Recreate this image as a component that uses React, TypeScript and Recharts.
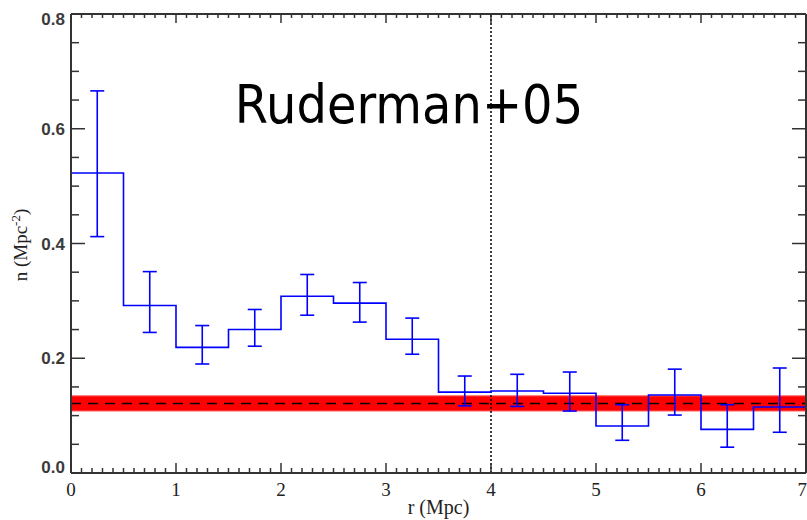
import React from "react";
import {
  ComposedChart,
  Line,
  Scatter,
  ErrorBar,
  XAxis,
  YAxis,
  ReferenceLine,
  ReferenceArea,
  Label,
} from "recharts";

// bin edges (Mpc) and the step level that starts at each edge
const binEdges = [0, 0.5, 1, 1.5, 2, 2.5, 3, 3.5, 4, 4.5, 5, 5.5, 6, 6.5, 7];
const edgeDensity = [0.523, 0.292, 0.219, 0.25, 0.308, 0.296, 0.233, 0.141, 0.143, 0.139, 0.082, 0.136, 0.076, 0.115, 0.172];

// bin centres with error bar ends
const binCentres = [0.25, 0.75, 1.25, 1.75, 2.25, 2.75, 3.25, 3.75, 4.25, 4.75, 5.25, 5.75, 6.25, 6.75];
const centreDensity = [0.523, 0.292, 0.219, 0.25, 0.308, 0.296, 0.233, 0.141, 0.143, 0.139, 0.082, 0.136, 0.076, 0.115];
const errLower = [0.412, 0.245, 0.19, 0.221, 0.275, 0.263, 0.207, 0.117, 0.116, 0.108, 0.057, 0.101, 0.045, 0.071];
const errUpper = [0.666, 0.351, 0.257, 0.285, 0.346, 0.332, 0.27, 0.169, 0.172, 0.176, 0.119, 0.181, 0.119, 0.183];

// background level and its band
const bgLevel = 0.121;
const bgBand = [0.108, 0.1345];
const markerR = 4;

const yTicks = [0, 0.05, 0.1, 0.15, 0.2, 0.25, 0.3, 0.35, 0.4, 0.45, 0.5, 0.55, 0.6, 0.65, 0.7, 0.75, 0.8];
const yMajor = [0, 0.2, 0.4, 0.6, 0.8];
const yLabels = ["0.0", "0.2", "0.4", "0.6", "0.8"];
const xTicks = Array.from({ length: 71 }, (_, i) => i / 10);

const stepData = binEdges.map((r, i) => ({ r, n: edgeDensity[i] }));
const errData = binCentres.map((r, i) => ({
  r,
  n: centreDensity[i],
  err: [centreDensity[i] - errLower[i], errUpper[i] - centreDensity[i]],
}));

const AX = "#333";
const isMajorY = (v: number) => yMajor.some((m) => Math.abs(m - v) < 1e-6);
const isMajorX = (v: number) => Math.abs(v - Math.round(v)) < 1e-6;

function LeftTick(p: any) {
  const v = p.payload.value;
  const major = isMajorY(v);
  const idx = yMajor.findIndex((m) => Math.abs(m - v) < 1e-6);
  let dy = 0;
  if (idx === yMajor.length - 1) dy = 5;
  if (idx === 0) dy = -6;
  return (
    <g>
      <line x1={p.x} x2={p.x + (major ? 14 : 8)} y1={p.y} y2={p.y} stroke={AX} strokeWidth={1.5} />
      {major && (
        <text x={p.x - 6} y={p.y + dy} dy="0.36em" textAnchor="end" fontFamily="Liberation Sans" fontWeight="bold" fontSize={17} fill="#3a3a3a">
          {yLabels[idx]}
        </text>
      )}
    </g>
  );
}

function RightTick(p: any) {
  const major = isMajorY(p.payload.value);
  return <line x1={p.x} x2={p.x - (major ? 14 : 8)} y1={p.y} y2={p.y} stroke={AX} strokeWidth={1.5} />;
}

function BottomTick(p: any) {
  const v = p.payload.value;
  const major = isMajorX(v);
  const last = Math.round(v) === 7;
  return (
    <g>
      <line x1={p.x} x2={p.x} y1={p.y} y2={p.y - (major ? 10 : 5)} stroke={AX} strokeWidth={1.5} />
      {major && (
        <text x={last ? 807 : p.x} y={p.y + 16} dy="0.36em" textAnchor={last ? "end" : "middle"} fontFamily="Liberation Serif" fontSize={19} fill="#222">
          {Math.round(v)}
        </text>
      )}
    </g>
  );
}

function TopTick(p: any) {
  const major = isMajorX(p.payload.value);
  return <line x1={p.x} x2={p.x} y1={p.y} y2={p.y + (major ? 9 : 4)} stroke={AX} strokeWidth={1.5} />;
}

export default function App() {
  return (
    <div style={{ position: "fixed", left: 0, top: 0, width: 807, height: 520, overflow: "hidden", background: "#fff" }}>
      <ComposedChart width={807} height={520} margin={{ top: 0, right: 0, bottom: 0, left: 0 }}>
        <XAxis
          xAxisId="b"
          type="number"
          dataKey="r"
          domain={[0, 7]}
          ticks={xTicks}
          interval={0}
          allowDataOverflow
          height={47}
          tickSize={0}
          tickMargin={0}
          tickLine={false}
          axisLine={{ stroke: AX, strokeWidth: 2 }}
          tick={(p: any) => <BottomTick {...p} />}
        >
          <Label
            content={(p: any) => (
              <text x={p.viewBox.x + p.viewBox.width / 2} y={p.viewBox.y + 41} textAnchor="middle" fontFamily="Liberation Serif" fontSize={20} fill="#222">
                r (Mpc)
              </text>
            )}
          />
        </XAxis>
        <XAxis
          xAxisId="t"
          orientation="top"
          type="number"
          dataKey="r"
          domain={[0, 7]}
          ticks={xTicks}
          interval={0}
          allowDataOverflow
          height={14}
          tickSize={0}
          tickMargin={0}
          tickLine={false}
          axisLine={{ stroke: AX, strokeWidth: 2 }}
          tick={(p: any) => <TopTick {...p} />}
        />
        <YAxis
          yAxisId="l"
          type="number"
          domain={[0, 0.8]}
          ticks={yTicks}
          interval={0}
          allowDataOverflow
          width={71}
          tickSize={0}
          tickMargin={0}
          tickLine={false}
          axisLine={{ stroke: AX, strokeWidth: 2 }}
          tick={(p: any) => <LeftTick {...p} />}
        >
          <Label
            content={() => (
              <text transform="translate(27, 245) rotate(-90)" textAnchor="middle" fontFamily="Liberation Serif" fontSize={19} fill="#222">
                n (Mpc<tspan dy={-7} fontSize={13}>-2</tspan>
                <tspan dy={7}>)</tspan>
              </text>
            )}
          />
        </YAxis>
        <YAxis
          yAxisId="r"
          orientation="right"
          type="number"
          domain={[0, 0.8]}
          ticks={yTicks}
          interval={0}
          allowDataOverflow
          width={1}
          tickSize={0}
          tickMargin={0}
          tickLine={false}
          axisLine={{ stroke: AX, strokeWidth: 2 }}
          tick={(p: any) => <RightTick {...p} />}
        />
        <ReferenceArea xAxisId="b" yAxisId="l" y1={bgBand[0]} y2={bgBand[1]} fill="#ff0000" fillOpacity={1} stroke="#ff6666" strokeWidth={1} />
        <ReferenceLine xAxisId="b" yAxisId="l" y={bgLevel} stroke="#000" strokeWidth={1.5} strokeDasharray="10 7" />
        <ReferenceLine xAxisId="b" yAxisId="l" x={markerR} stroke="#000" strokeWidth={1.5} strokeDasharray="2 2" />
        <Line
          xAxisId="b"
          yAxisId="l"
          data={stepData}
          dataKey="n"
          type="stepAfter"
          stroke="#0000ff"
          strokeWidth={1.6}
          dot={false}
          isAnimationActive={false}
        />
        <Scatter
          xAxisId="b"
          yAxisId="l"
          data={errData}
          dataKey="n"
          shape={() => <g />}
          isAnimationActive={false}
        >
          <ErrorBar dataKey="err" direction="y" width={7} stroke="#0000ff" strokeWidth={1.6} isAnimationActive={false} />
        </Scatter>
      </ComposedChart>
      <svg width={807} height={520} style={{ position: "absolute", left: 0, top: 0, pointerEvents: "none" }}>
        <text transform="translate(409, 123) scale(1, 1.12)" textAnchor="middle" fontFamily="DejaVu Sans" fontSize={48} fill="#000">
          Ruderman+05
        </text>
      </svg>
    </div>
  );
}
